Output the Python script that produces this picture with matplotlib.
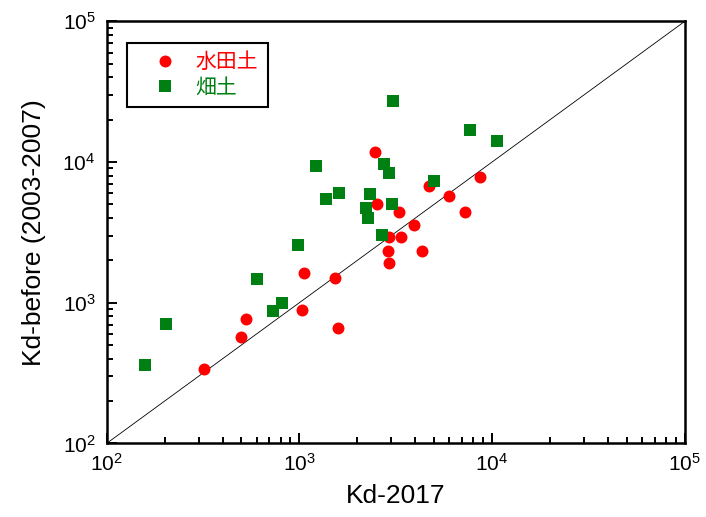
import numpy as np
import matplotlib
matplotlib.use("Agg")
import matplotlib.pyplot as plt

plt.rcParams['font.family'] = ['Liberation Sans', 'Noto Sans CJK JP']

# 水田土 (paddy soil): Kd-2017 vs Kd-before
paddy_kd2017 = [320, 501, 526, 1058, 1027, 1532, 1588, 2479, 2544, 2937,
                3389, 2868, 2937, 4355, 3958, 3290, 4735, 6012, 7278, 8652]
paddy_before = [338, 571, 767, 1629, 889, 1501, 667, 11700, 5038, 2936,
                2936, 2335, 1918, 2315, 3573, 4383, 6707, 5694, 4418, 7834]

# 畑土 (upland soil)
upland_kd2017 = [158, 203, 603, 728, 813, 985, 1225, 1376, 1601, 2335,
                 2211, 2272, 2685, 2760, 2920, 3026, 3073, 5015, 7708, 10640]
upland_before = [361, 706, 1476, 874, 989, 2553, 9376, 5495, 6062, 5964,
                 4694, 4025, 3018, 9694, 8408, 5012, 27320, 7278, 16910, 14130]

lims = [1e2, 1e5]

fig = plt.figure(figsize=(7.06, 5.17), dpi=100)
ax = fig.add_axes([0.1509, 0.1422, 0.8191, 0.8166])

# 1:1 line
ax.plot(lims, lims, color='black', lw=0.6, zorder=1)

ax.plot(paddy_kd2017, paddy_before, 'o', color='#ff0000', ms=8.6,
        mew=0, label='水田土', zorder=2)
ax.plot(upland_kd2017, upland_before, 's', color='#008013', ms=8.1,
        mew=0, label='畑土', zorder=3)

ax.set_xscale('log')
ax.set_yscale('log')
ax.set_xlim(lims)
ax.set_ylim(lims)

for sp in ax.spines.values():
    sp.set_linewidth(1.8)

ax.tick_params(which='both', direction='in', top=False, right=False, width=1.4)
ax.tick_params(which='major', length=7.5, labelsize=15)
ax.tick_params(axis='x', which='major', pad=7)
ax.tick_params(axis='y', which='major', pad=8)
ax.tick_params(which='minor', length=4.5)

ax.set_xlabel('Kd-2017', fontsize=19)
ax.set_ylabel('Kd-before (2003-2007)', fontsize=19)
ax.xaxis.set_label_coords(0.5, -0.095)
ax.yaxis.set_label_coords(-0.105, 0.5)

leg = ax.legend(loc='upper left', bbox_to_anchor=(0.035, 0.948),
                borderaxespad=0, fontsize=15, borderpad=0.45,
                handlelength=2.8, handletextpad=0.05, labelspacing=0.3,
                fancybox=False, framealpha=1, edgecolor='black',
                labelcolor='markerfacecolor')
leg.get_frame().set_linewidth(1.5)

fig.savefig('out.png', dpi=100)
